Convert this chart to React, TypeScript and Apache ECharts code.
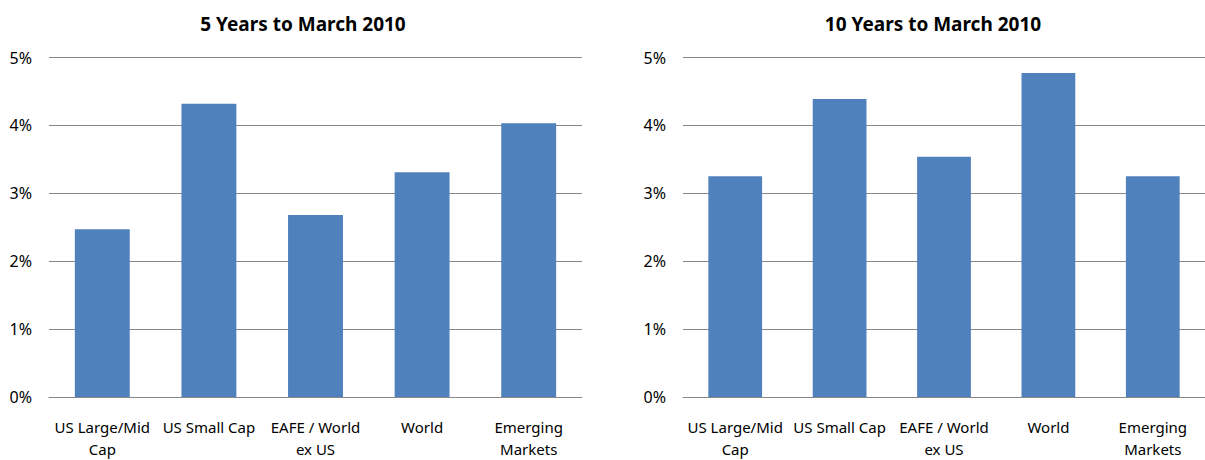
import React, { useEffect, useRef } from "react";
import * as echarts from "echarts";

const categories = ["US Large/Mid\nCap", "US Small Cap", "EAFE / World\nex US", "World", "Emerging\nMarkets"];
const fiveYearValues = [2.47, 4.32, 2.68, 3.31, 4.03];
const tenYearValues = [3.25, 4.39, 3.54, 4.77, 3.25];
const titles = ["5 Years to March 2010", "10 Years to March 2010"];
const yTicks = { min: 0, max: 5, interval: 1 };

const FONT = "'Noto Sans', 'Open Sans', sans-serif";
const BAR = "#4F81BD";
const GRIDC = "#878787";

export default function App() {
  const ref = useRef<HTMLDivElement>(null);
  useEffect(() => {
    if (!ref.current) return;
    const chart = echarts.init(ref.current, null, { renderer: "svg" });
    const grids = [
      { left: 49, top: 57.5, width: 533, height: 341.5 },
      { left: 683, top: 57.5, width: 533, height: 341.5 },
    ];
    const xAxes = grids.map((_, i) => ({
      type: "category" as const,
      gridIndex: i,
      data: categories,
      axisLine: { show: true, lineStyle: { color: GRIDC, width: 1 } },
      axisTick: { show: false },
      axisLabel: {
        interval: 0,
        color: "#000",
        fontFamily: FONT,
        fontSize: 15,
        lineHeight: 22,
        margin: 19,
      },
    }));
    const yAxes = grids.map((_, i) => ({
      type: "value" as const,
      gridIndex: i,
      min: yTicks.min,
      max: yTicks.max,
      interval: yTicks.interval,
      axisLine: { show: false },
      axisTick: { show: false },
      splitLine: { show: true, lineStyle: { color: GRIDC, width: 1 } },
      axisLabel: {
        color: "#000",
        fontFamily: FONT,
        fontSize: 16,
        margin: 17,
        formatter: (v: number) => v + "%",
      },
    }));
    chart.setOption({
      animation: false,
      backgroundColor: "#fff",
      title: [
        { text: titles[0], left: 298, top: 9, textAlign: "center" },
        { text: titles[1], left: 928, top: 9, textAlign: "center" },
      ].map((t) => ({
        ...t,
        textStyle: { fontFamily: FONT, fontSize: 19, fontWeight: "bold", color: "#000" },
      })),
      grid: grids,
      xAxis: xAxes,
      yAxis: yAxes,
      series: [fiveYearValues, tenYearValues].map((d, i) => ({
        type: "bar",
        xAxisIndex: i,
        yAxisIndex: i,
        data: d,
        barWidth: "51.5%",
        itemStyle: { color: BAR },
      })),
    });
    return () => chart.dispose();
  }, []);
  return (
    <div
      ref={ref}
      style={{ position: "absolute", left: 0, top: 0, width: 1205, height: 460, overflow: "hidden" }}
    />
  );
}
